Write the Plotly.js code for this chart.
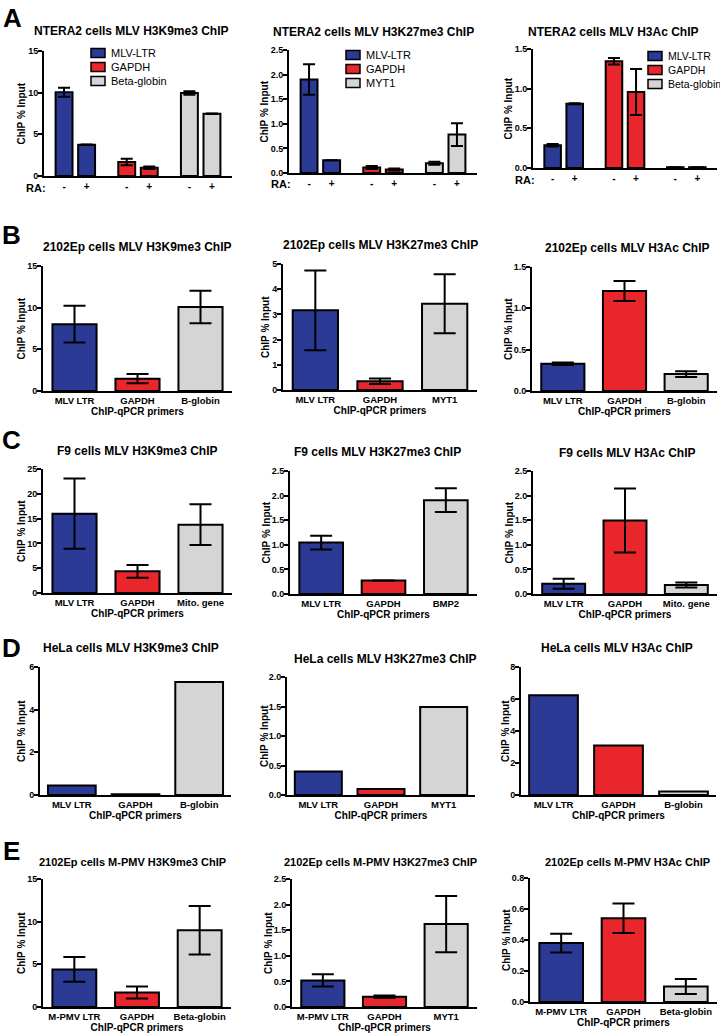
<!DOCTYPE html>
<html><head><meta charset="utf-8">
<script src="https://cdn.plot.ly/plotly-3.0.1.min.js"></script>
<style>body{margin:0;background:#fff}#c{width:720px;height:1036px}</style>
</head><body><div id="c"></div>
<script>
// ---------------- DATA ----------------
const raLabels = ['-', '+'];
// Row A (NTERA2, RA - / +)
const a1Genes = ['MLV-LTR', 'GAPDH', 'Beta-globin'];
const a1Vals = [[10.05, 3.76], [1.68, 1.0], [9.96, 7.48]];
const a1Errs = [[0.55, 0.03], [0.4, 0.15], [0.2, 0.03]];
const a2Genes = ['MLV-LTR', 'GAPDH', 'MYT1'];
const a2Vals = [[1.90, 0.26], [0.11, 0.07], [0.20, 0.78]];
const a2Errs = [[0.31, 0.0], [0.03, 0.02], [0.03, 0.23]];
const a3Genes = ['MLV-LTR', 'GAPDH', 'Beta-globin'];
const a3Vals = [[0.287, 0.81], [1.345, 0.957], [0.01, 0.01]];
const a3Errs = [[0.015, 0.005], [0.04, 0.29], [0, 0]];
// Row B (2102Ep)
const b1Cats = ['MLV LTR', 'GAPDH', 'B-globin'];
const b1Vals = [8.02, 1.48, 10.07];
const b1Errs = [2.2, 0.55, 1.95];
const b2Cats = ['MLV LTR', 'GAPDH', 'MYT1'];
const b2Vals = [3.16, 0.345, 3.42];
const b2Errs = [1.58, 0.11, 1.17];
const b3Cats = ['MLV LTR', 'GAPDH', 'B-globin'];
const b3Vals = [0.33, 1.21, 0.205];
const b3Errs = [0.015, 0.12, 0.035];
// Row C (F9)
const c1Cats = ['MLV LTR', 'GAPDH', 'Mito. gene'];
const c1Vals = [16.0, 4.37, 13.78];
const c1Errs = [7.1, 1.28, 4.1];
const c2Cats = ['MLV LTR', 'GAPDH', 'BMP2'];
const c2Vals = [1.045, 0.276, 1.907];
const c2Errs = [0.14, 0, 0.24];
const c3Cats = ['MLV LTR', 'GAPDH', 'Mito. gene'];
const c3Vals = [0.209, 1.496, 0.182];
const c3Errs = [0.1, 0.65, 0.05];
// Row D (HeLa)
const d1Cats = ['MLV LTR', 'GAPDH', 'B-globin'];
const d1Vals = [0.45, 0.04, 5.3];
const d2Cats = ['MLV LTR', 'GAPDH', 'MYT1'];
const d2Vals = [0.40, 0.10, 1.49];
const d3Cats = ['MLV LTR', 'GAPDH', 'B-globin'];
const d3Vals = [6.24, 3.1, 0.22];
// Row E (2102Ep M-PMV)
const e1Cats = ['M-PMV LTR', 'GAPDH', 'Beta-globin'];
const e1Vals = [4.4, 1.7, 9.0];
const e1Errs = [1.45, 0.7, 2.85];
const e2Cats = ['M-PMV LTR', 'GAPDH', 'MYT1'];
const e2Vals = [0.52, 0.2, 1.62];
const e2Errs = [0.12, 0.025, 0.55];
const e3Cats = ['M-PMV LTR', 'GAPDH', 'Beta-globin'];
const e3Vals = [0.38, 0.54, 0.1];
const e3Errs = [0.06, 0.095, 0.048];

const titles = {
  a1: 'NTERA2 cells MLV H3K9me3 ChIP', a2: 'NTERA2 cells MLV H3K27me3 ChIP', a3: 'NTERA2 cells MLV H3Ac ChIP',
  b1: '2102Ep cells MLV H3K9me3 ChIP', b2: '2102Ep cells MLV H3K27me3 ChIP', b3: '2102Ep cells MLV H3Ac ChIP',
  c1: 'F9 cells MLV H3K9me3 ChIP', c2: 'F9 cells MLV H3K27me3 ChIP', c3: 'F9 cells MLV H3Ac ChIP',
  d1: 'HeLa cells MLV H3K9me3 ChIP', d2: 'HeLa cells MLV H3K27me3 ChIP', d3: 'HeLa cells MLV H3Ac ChIP',
  e1: '2102Ep cells M-PMV H3K9me3 ChIP', e2: '2102Ep cells M-PMV H3K27me3 ChIP', e3: '2102Ep cells M-PMV H3Ac ChIP'
};
const yTitle = 'ChIP % Input';
const xTitle = 'ChIP-qPCR primers';
const raTitle = 'RA:';
const panelLetters = ['A', 'B', 'C', 'D', 'E'];

// ---------------- STYLE / LAYOUT ----------------
const W = 720, H = 1036;
const COLORS = ['#2b3a94', '#e8262b', '#d5d5d5'];
const FONT = 'Liberation Sans, Arial, sans-serif';
const NARROW = 'Liberation Sans Narrow, Liberation Sans, Arial, sans-serif';
const px2x = p => p / W;
const px2y = p => 1 - p / H;

// panel geometry in pixels (x: axis start/end, y: top/bottom, yt: x of y-axis title)
const geo = {
  a1: {x: [44, 232], y: [51, 176], max: 15, dtick: 5, fmt: 'd', yt: 21},
  a2: {x: [289, 477], y: [50, 173], max: 2.5, dtick: 0.5, fmt: '.1f', yt: 264},
  a3: {x: [533, 717], y: [49, 168], max: 1.5, dtick: 0.5, fmt: '.1f', yt: 508},
  b1: {x: [43, 232], y: [266, 391], max: 15, dtick: 5, fmt: 'd', yt: 21},
  b2: {x: [283, 477], y: [264, 390], max: 5, dtick: 1, fmt: 'd', yt: 265},
  b3: {x: [532, 717], y: [267, 391], max: 1.5, dtick: 0.5, fmt: '.1f', yt: 508},
  c1: {x: [43, 232], y: [469, 593], max: 25, dtick: 5, fmt: 'd', yt: 21},
  c2: {x: [290, 477], y: [471, 594], max: 2.5, dtick: 0.5, fmt: '.1f', yt: 266},
  c3: {x: [533, 717], y: [471, 594], max: 2.5, dtick: 0.5, fmt: '.1f', yt: 509},
  d1: {x: [40, 231], y: [667, 795], max: 6, dtick: 2, fmt: 'd', narrow: true, yt: 21},
  d2: {x: [287, 475], y: [677, 795], max: 2, dtick: 0.5, fmt: '.1f', narrow: true, yt: 264},
  d3: {x: [521, 716], y: [667, 795], max: 8, dtick: 2, fmt: 'd', narrow: true, yt: 505},
  e1: {x: [43, 231], y: [879, 1007], max: 15, dtick: 5, fmt: 'd', yt: 21},
  e2: {x: [292, 477], y: [879, 1007], max: 2.5, dtick: 0.5, fmt: '.1f', yt: 268},
  e3: {x: [530, 717], y: [878, 1002], max: 0.8, dtick: 0.2, fmt: '.1f', yt: 506}
};
const titlePos = {
  a1: [131, 31], a2: [373, 32], a3: [613, 32],
  b1: [137, 247], b2: [380, 245], b3: [627, 248],
  c1: [137, 451], c2: [377, 452], c3: [627, 453],
  d1: [131, 648], d2: [385, 659], d3: [617, 648],
  e1: [132, 862], e2: [380, 862], e3: [627, 862]
};
const letterPos = [[13, 18], [11, 235], [11, 440], [11, 648], [11, 851]];
const legendPos = [[91, 53], [346, 55], [648, 56]];   // first box left / first row center
const legendSize = [11, 11, 10.5];
const raPos = [[48, 188], [293, 184], [537, 180]];

const order = ['a1','a2','a3','b1','b2','b3','c1','c2','c3','d1','d2','d3','e1','e2','e3'];
const layout = {
  width: W, height: H, margin: {l: 0, r: 0, t: 0, b: 0},
  paper_bgcolor: '#fff', plot_bgcolor: 'rgba(0,0,0,0)',
  showlegend: false, barmode: 'overlay',
  font: {family: FONT, color: '#000', size: 10},
  annotations: [], shapes: []
};
const traces = [];

function axisNames(i) { return i === 0 ? ['x', 'y', 'xaxis', 'yaxis'] : ['x' + (i + 1), 'y' + (i + 1), 'xaxis' + (i + 1), 'yaxis' + (i + 1)]; }

order.forEach((key, i) => {
  const g = geo[key];
  const [xr, yr, xk, yk] = axisNames(i);
  const tfam = g.narrow ? NARROW : FONT;
  layout[yk] = {
    domain: [px2y(g.y[1]), px2y(g.y[0])], anchor: xr, range: [0, g.max],
    dtick: g.dtick, tick0: 0, tickformat: g.fmt, showgrid: false, zeroline: false,
    showline: true, linewidth: 2, linecolor: '#000', ticks: 'outside', ticklen: 4, tickwidth: 2, tickcolor: '#000',
    ticklabelstandoff: -2,
    tickfont: {family: tfam, size: 9, weight: 'bold'},
    automargin: false, fixedrange: true
  };
  layout[xk] = {
    domain: [px2x(g.x[0]), px2x(g.x[1])], anchor: yr, showgrid: false, zeroline: false,
    showline: true, linewidth: 2, linecolor: '#000', ticks: '',
    tickfont: {family: tfam, size: 9, weight: 'bold'}, automargin: false, fixedrange: true
  };
  // y-axis title
  layout.annotations.push({xref: 'paper', yref: 'paper', x: px2x(g.yt), y: px2y((g.y[0] + g.y[1]) / 2),
    xanchor: 'center', yanchor: 'middle', textangle: -90, text: yTitle, showarrow: false,
    font: {family: tfam, size: 10, weight: 'bold'}});
  const tp = titlePos[key];
  layout.annotations.push({xref: 'paper', yref: 'paper', x: px2x(tp[0]), y: px2y(tp[1]), xanchor: 'center', yanchor: 'middle',
    text: titles[key], showarrow: false, font: {family: g.narrow ? NARROW : FONT, size: key[0] === 'e' ? 11 : 12, weight: 'bold'}});
});

// Row A: RA -/+ bars per gene
const aSets = [[a1Genes, a1Vals, a1Errs], [a2Genes, a2Vals, a2Errs], [a3Genes, a3Vals, a3Errs]];
aSets.forEach((set, p) => {
  const [genes, vals, errs] = set;
  const [xr, yr, xk] = axisNames(p);
  const tickvals = [], ticktext = [];
  genes.forEach((gene, gi) => {
    const xs = raLabels.map((r, j) => gi + (j - 0.5) * 0.36);
    xs.forEach((x, j) => { tickvals.push(x); ticktext.push(raLabels[j]); });
    traces.push({type: 'bar', name: gene, x: xs, y: vals[gi], width: 0.27, xaxis: xr, yaxis: yr,
      marker: {color: COLORS[gi], line: {color: '#000', width: 2}},
      error_y: {type: 'data', array: errs[gi], visible: true, color: '#000', thickness: 2, width: 6}});
    // legend entry (box + label)
    const lx = legendPos[p][0], ly = legendPos[p][1] + gi * 14;
    layout.shapes.push({type: 'rect', xref: 'paper', yref: 'paper', x0: px2x(lx), x1: px2x(lx + 14),
      y0: px2y(ly + 4.5), y1: px2y(ly - 4.5), fillcolor: COLORS[gi], line: {color: '#000', width: 1.5}});
    layout.annotations.push({xref: 'paper', yref: 'paper', x: px2x(lx + 18), y: px2y(ly), xanchor: 'left', yanchor: 'middle',
      text: gene, showarrow: false, font: {family: FONT, size: legendSize[p]}});
  });
  Object.assign(layout[xk], {range: [-0.5, 2.5], tickvals, ticktext, tickfont: {family: FONT, size: 10, weight: 'bold'}});
  layout.annotations.push({xref: 'paper', yref: 'paper', x: px2x(raPos[p][0]), y: px2y(raPos[p][1]), xanchor: 'right', yanchor: 'middle',
    text: raTitle, showarrow: false, font: {family: FONT, size: 11, weight: 'bold'}});
});

// Rows B-E: single-series category bars
const catSets = {
  b1: [b1Cats, b1Vals, b1Errs], b2: [b2Cats, b2Vals, b2Errs], b3: [b3Cats, b3Vals, b3Errs],
  c1: [c1Cats, c1Vals, c1Errs], c2: [c2Cats, c2Vals, c2Errs], c3: [c3Cats, c3Vals, c3Errs],
  d1: [d1Cats, d1Vals, null], d2: [d2Cats, d2Vals, null], d3: [d3Cats, d3Vals, null],
  e1: [e1Cats, e1Vals, e1Errs], e2: [e2Cats, e2Vals, e2Errs], e3: [e3Cats, e3Vals, e3Errs]
};
Object.keys(catSets).forEach(key => {
  const i = order.indexOf(key);
  const [xr, yr, xk] = axisNames(i);
  const [cats, vals, errs] = catSets[key];
  const narrow = geo[key].narrow || key[0] === 'c';
  const t = {type: 'bar', x: cats, y: vals, width: key[0] === 'd' ? 0.75 : 0.7, xaxis: xr, yaxis: yr,
    marker: {color: COLORS, line: {color: '#000', width: 2}}};
  if (errs) t.error_y = {type: 'data', array: errs, visible: true, color: '#000', thickness: 2, width: 11};
  traces.push(t);
  Object.assign(layout[xk], {type: 'category', range: [-0.5, 2.5],
    tickfont: {family: narrow ? NARROW : FONT, size: 9.5, weight: 'bold'},
    title: {text: xTitle, font: {family: narrow ? NARROW : FONT, size: 10, weight: 'bold'}, standoff: 0}});
});

panelLetters.forEach((L, k) => {
  layout.annotations.push({xref: 'paper', yref: 'paper', x: px2x(letterPos[k][0]), y: px2y(letterPos[k][1]),
    xanchor: 'center', yanchor: 'middle', text: L, showarrow: false, font: {family: FONT, size: 26, weight: 'bold'}});
});

Plotly.newPlot('c', traces, layout, {staticPlot: true, displayModeBar: false});
</script>
</body></html>
